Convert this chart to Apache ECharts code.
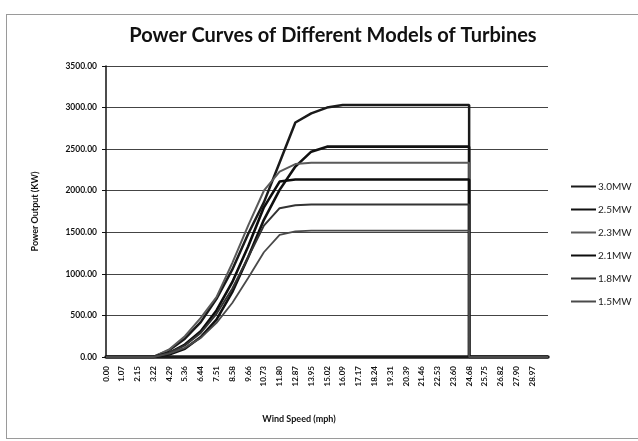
<!DOCTYPE html>
<html>
<head>
<meta charset="utf-8">
<script src="https://cdn.jsdelivr.net/npm/echarts@6/dist/echarts.min.js"></script>
<style>
  html, body { margin: 0; padding: 0; background: #fff; }
  #wrap { position: relative; width: 638px; height: 441px; }
  #chart { width: 638px; height: 441px; }
  #frame { position: absolute; left: 6px; top: 14px; width: 640px; height: 423px;
           border: 1px solid #9a9a9a; pointer-events: none; }
</style>
</head>
<body>
<div id="wrap">
  <div id="chart"></div>
  <div id="frame"></div>
</div>
<script>
// wind speed (mph); 24.68 twice for the cut-out drop
var speeds = [0.00, 1.07, 2.15, 3.22, 4.29, 5.36, 6.44, 7.51, 8.58, 9.66, 10.73, 11.80, 12.87, 13.95, 15.02,
              16.09, 17.17, 18.24, 19.31, 20.39, 21.46, 22.53, 23.60, 24.68, 24.68, 25.75, 26.82, 27.90, 28.97, 30.04];

var speedLabels = ['0.00','1.07','2.15','3.22','4.29','5.36','6.44','7.51','8.58','9.66','10.73','11.80','12.87','13.95',
                   '15.02','16.09','17.17','18.24','19.31','20.39','21.46','22.53','23.60','24.68','25.75','26.82','27.90','28.97'];

var models = ['3.0MW', '2.5MW', '2.3MW', '2.1MW', '1.8MW', '1.5MW'];

var p30 = [0, 0, 0, 0, 80, 220, 420, 700, 1050, 1480, 1860, 2340, 2820, 2930, 3000,
           3030, 3030, 3030, 3030, 3030, 3030, 3030, 3030, 3030, 0, 0, 0, 0, 0, 0];
var p25 = [0, 0, 0, 0, 30, 100, 240, 450, 780, 1200, 1650, 2010, 2290, 2470, 2530,
           2530, 2530, 2530, 2530, 2530, 2530, 2530, 2530, 2530, 0, 0, 0, 0, 0, 0];
var p23 = [0, 0, 0, 0, 90, 250, 470, 720, 1130, 1580, 2000, 2230, 2320, 2335, 2335,
           2335, 2335, 2335, 2335, 2335, 2335, 2335, 2335, 2335, 0, 0, 0, 0, 0, 0];
var p21 = [0, 0, 0, 0, 50, 150, 310, 560, 900, 1330, 1800, 2110, 2135, 2135, 2135,
           2135, 2135, 2135, 2135, 2135, 2135, 2135, 2135, 2135, 0, 0, 0, 0, 0, 0];
var p18 = [0, 0, 0, 0, 50, 140, 290, 520, 820, 1200, 1580, 1790, 1825, 1835, 1835,
           1835, 1835, 1835, 1835, 1835, 1835, 1835, 1835, 1835, 0, 0, 0, 0, 0, 0];
var p15 = [0, 0, 0, 0, 40, 110, 230, 410, 650, 950, 1260, 1470, 1510, 1520, 1520,
           1520, 1520, 1520, 1520, 1520, 1520, 1520, 1520, 1520, 0, 0, 0, 0, 0, 0];

var powers = [p30, p25, p23, p21, p18, p15];
var lineColors = ['#1a1a1a', '#111111', '#5a5a5a', '#0d0d0d', '#333333', '#4a4a4a'];
var lineWidths = [2.5, 2.6, 2, 2.6, 2, 1.8];

function pairs(p) {
    return speeds.map(function (s, i) { return [s, p[i]]; });
}

var myChart = echarts.init(document.getElementById('chart'));
var font = 'Lato, "Open Sans", sans-serif';

var series = models.map(function (name, k) {
    return {
        name: name,
        type: 'line',
        data: pairs(powers[k]),
        symbol: 'none',
        smooth: false,
        lineStyle: { color: lineColors[k], width: lineWidths[k] },
        itemStyle: { color: lineColors[k] }
    };
});

var option = {
    backgroundColor: '#fff',
    animation: false,
    textStyle: { fontFamily: font },
    title: {
        text: 'Power Curves of Different Models of Turbines',
        left: 328,
        textAlign: 'center',
        top: 21,
        textStyle: { fontFamily: font, fontSize: 20, fontWeight: 'bold', color: '#111' }
    },
    legend: {
        orient: 'vertical',
        left: 566,
        top: 175,
        itemGap: 10,
        itemWidth: 25,
        itemHeight: 2,
        icon: 'rect',
        data: models,
        textStyle: { fontFamily: font, fontSize: 10, color: '#222', padding: [0, 0, 0, -3], lineHeight: 13 }
    },
    grid: { left: 106, right: 90, top: 66, bottom: 84 },
    xAxis: {
        type: 'value',
        min: 0,
        max: 30.04,
        name: 'Wind Speed (mph)',
        nameLocation: 'middle',
        nameGap: 58,
        nameTextStyle: { fontFamily: font, fontSize: 9, fontWeight: 'bold', color: '#111', padding: [0, 56, 0, 0] },
        axisLine: { show: true, lineStyle: { color: '#1a1a1a', width: 3.5 } },
        axisTick: { show: false },
        splitLine: { show: false },
        axisLabel: {
            customValues: speedLabels.map(Number),
            formatter: function (v) { return v.toFixed(2); },
            rotate: 90,
            margin: 9,
            fontFamily: font,
            fontSize: 8,
            fontWeight: 'bold',
            color: '#111'
        }
    },
    yAxis: {
        type: 'value',
        min: 0,
        max: 3500,
        interval: 500,
        name: 'Power Output (KW)',
        nameLocation: 'middle',
        nameGap: 66,
        nameTextStyle: { fontFamily: font, fontSize: 9, fontWeight: 'bold', color: '#111' },
        axisLine: { show: true, lineStyle: { color: '#111', width: 1.5 } },
        axisTick: { show: true, length: 4, lineStyle: { color: '#111' } },
        splitLine: { show: true, lineStyle: { color: '#444', width: 1 } },
        axisLabel: {
            formatter: function (v) { return v.toFixed(2); },
            margin: 9,
            fontFamily: font,
            fontSize: 8.5,
            fontWeight: 'bold',
            color: '#111'
        }
    },
    series: series
};

window.addEventListener('resize', function () { myChart.resize(); });
myChart.setOption(option);
</script>
</body>
</html>
